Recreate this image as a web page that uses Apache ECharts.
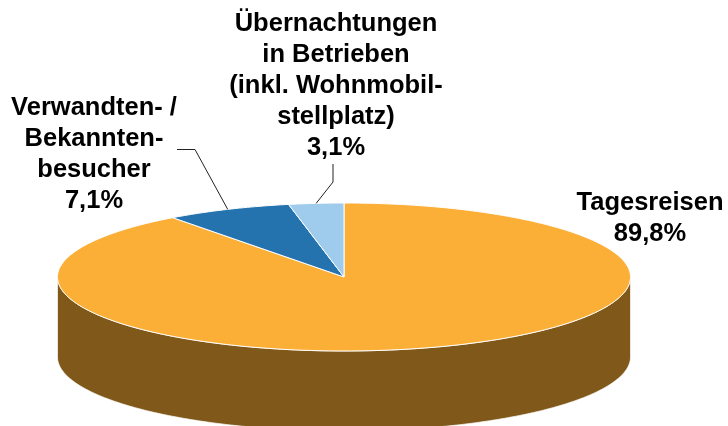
<!DOCTYPE html>
<html lang="de">
<head>
<meta charset="UTF-8">
<script src="https://cdn.jsdelivr.net/npm/echarts@6/dist/echarts.min.js"></script>
<style>html,body{margin:0;background:#fff}#main{width:728px;height:426px}</style>
</head>
<body>
<div id="main"></div>
<script>
var categories = ['Tagesreisen', 'Verwandten- / Bekanntenbesucher', 'Übernachtungen in Betrieben'];
var values = [89.8, 7.1, 3.1];
var colors = ['#FCAF36', '#2473AE', '#9FCBEC'];
var sideColor = '#7F581A';
var labelTexts = [
    'Tagesreisen\n89,8%',
    'Verwandten- /\nBekannten-\nbesucher\n7,1%',
    'Übernachtungen\nin Betrieben\n(inkl. Wohnmobil-\nstellplatz)\n3,1%'
];

var cx = 344, cy = 277, rx = 286.5, ry = 74, depth = 80;
var total = values.reduce(function (a, b) { return a + b; }, 0);
var LABEL_FONT = 'bold 25.5px "Liberation Sans", Arial, sans-serif';

function pt(a, dy) {
    // a = clockwise from 12 o'clock
    return [cx + rx * Math.sin(a), cy - ry * Math.cos(a) + (dy || 0)];
}

function sectorPoints(a0, a1) {
    var pts = [[cx, cy]];
    var n = Math.max(2, Math.ceil((a1 - a0) / 0.01));
    for (var i = 0; i <= n; i++) pts.push(pt(a0 + (a1 - a0) * i / n));
    return pts;
}

function sidePoints() {
    // visible wall: lower half of the ellipse
    var pts = [];
    var i, a;
    for (i = 0; i <= 200; i++) { a = Math.PI / 2 + Math.PI * i / 200; pts.push(pt(a)); }
    for (i = 200; i >= 0; i--) { a = Math.PI / 2 + Math.PI * i / 200; pts.push(pt(a, depth)); }
    return pts;
}

// leader lines: [slice index, elbow x, elbow y, end x, end y]
var leaderLines = [
    [1, 195, 149.5, 177, 149.5],
    [2, 333, 182, 333, 164]
];
// label anchors
var labelPos = [[650, 218], [94, 154], [336, 86]];

function renderPie(params, api) {
    var i = api.value(0);
    var start = 0;
    for (var k = 0; k < i; k++) start += values[k];
    // slices run clockwise from 12 o'clock, last slice ends at 12
    var a0 = start / total * Math.PI * 2;
    var a1 = (start + values[i]) / total * Math.PI * 2;
    var children = [];
    if (i === 0) {
        children.push({ type: 'polygon', shape: { points: sidePoints() }, style: { fill: sideColor, stroke: '#fff', lineWidth: 0.7 } });
    }
    children.push({ type: 'polygon', z2: 2, shape: { points: sectorPoints(a0, a1) }, style: { fill: colors[i], stroke: '#fff', lineWidth: 1 } });
    var leader = leaderLines.filter(function (l) { return l[0] === i; })[0];
    if (leader) {
        children.push({
            type: 'polyline',
            z2: 5,
            shape: { points: [pt((a0 + a1) / 2), [leader[1], leader[2]], [leader[3], leader[4]]] },
            style: { stroke: '#222', lineWidth: 1, fill: null }
        });
    }
    children.push({
        type: 'text',
        z2: 6,
        style: {
            x: labelPos[i][0], y: labelPos[i][1],
            text: labelTexts[i],
            font: LABEL_FONT,
            fill: '#000',
            align: 'center',
            verticalAlign: 'middle',
            lineHeight: 31
        }
    });
    return { type: 'group', children: children };
}

var chart = echarts.init(document.getElementById('main'), null, { renderer: 'canvas' });
chart.setOption({
    animation: false,
    backgroundColor: '#fff',
    series: [{
        type: 'custom',
        coordinateSystem: 'none',
        renderItem: renderPie,
        data: categories.map(function (c, i) { return { name: c, value: [i, values[i]] }; })
    }]
});
</script>
</body>
</html>
